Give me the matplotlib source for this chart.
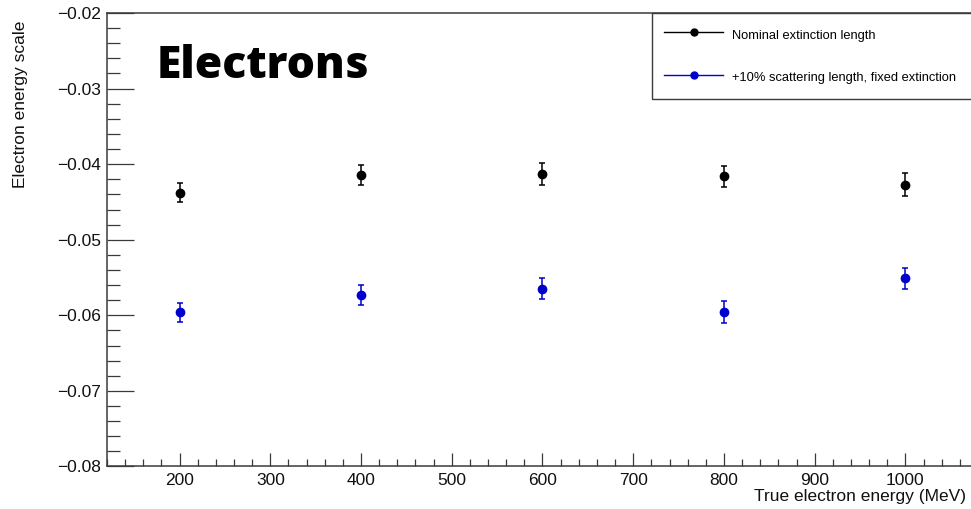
import matplotlib.pyplot as plt
from matplotlib.lines import Line2D
from matplotlib.ticker import MultipleLocator

plt.rcParams['font.family'] = ['Liberation Sans', 'DejaVu Sans']

# electron energy scale vs true energy
energy = [200, 400, 600, 800, 1000]
nominal = [-0.0438, -0.0414, -0.0413, -0.0416, -0.0427]
nominal_err = [0.00125, 0.0013, 0.0014, 0.0014, 0.0015]
scatter = [-0.0596, -0.0573, -0.0565, -0.0596, -0.0551]
scatter_err = [0.00125, 0.0013, 0.0014, 0.00145, 0.0014]

labels = ['Nominal extinction length',
          '+10% scattering length, fixed extinction']
blue = '#0000cc'
axis_col = '#3a3a3a'

fig = plt.figure(figsize=(9.71, 5.09), dpi=100)
ax = fig.add_axes([0.1102, 0.0835, 0.897, 0.891])

ax.errorbar(energy, nominal, yerr=nominal_err, fmt='o', color='black',
            ms=6, elinewidth=1.1, capsize=2.5, capthick=1.1)
ax.errorbar(energy, scatter, yerr=scatter_err, fmt='o', color=blue,
            ms=6, elinewidth=1.1, capsize=2.5, capthick=1.1)

ax.set_xlim(120, 1080)
ax.set_ylim(-0.08, -0.02)
ax.xaxis.set_major_locator(MultipleLocator(100))
ax.xaxis.set_minor_locator(MultipleLocator(20))
ax.yaxis.set_major_locator(MultipleLocator(0.01))
ax.yaxis.set_minor_locator(MultipleLocator(0.002))
ax.yaxis.set_major_formatter(plt.FuncFormatter(lambda v, p: f'{v:.2f}'.replace('-', '\u2212')))

for s in ax.spines.values():
    s.set_color(axis_col)
    s.set_linewidth(1.1)
ax.tick_params(axis='both', which='both', direction='in', colors=axis_col,
               labelcolor='#111111', labelsize=12.5, width=0.9)
ax.tick_params(axis='y', which='major', length=19.5, pad=4)
ax.tick_params(axis='y', which='minor', length=9.5)
ax.tick_params(axis='x', which='major', length=9.5, pad=5)
ax.tick_params(axis='x', which='minor', length=5)

fig.text(20 / 971, 1 - 21 / 509, 'Electron energy scale', rotation=90,
         ha='center', va='top', fontsize=12.5, color='#111111')
fig.text(966 / 971, 1 - 496 / 509, 'True electron energy (MeV)',
         ha='right', va='center', fontsize=12.5, color='#111111')
fig.text(157 / 971, 1 - 78 / 509, 'Electrons', ha='left', va='baseline',
         fontsize=32, fontweight='heavy', family=['Open Sans', 'DejaVu Sans'])

handles = [Line2D([], [], color='black', lw=1, marker='o', ms=5),
           Line2D([], [], color=blue, lw=1, marker='o', ms=5)]
leg = ax.legend(handles, labels, loc='upper left',
                bbox_to_anchor=(0.6257, 0, 0.3743, 1.0), mode='expand',
                borderaxespad=0, fontsize=9.3, handlelength=4.55,
                handleheight=1.8, handletextpad=0.72, borderpad=0.95,
                labelspacing=1.9, fancybox=False, framealpha=1)
leg.get_frame().set_edgecolor(axis_col)
leg.get_frame().set_linewidth(1.0)

fig.savefig('out.png', dpi=100)
